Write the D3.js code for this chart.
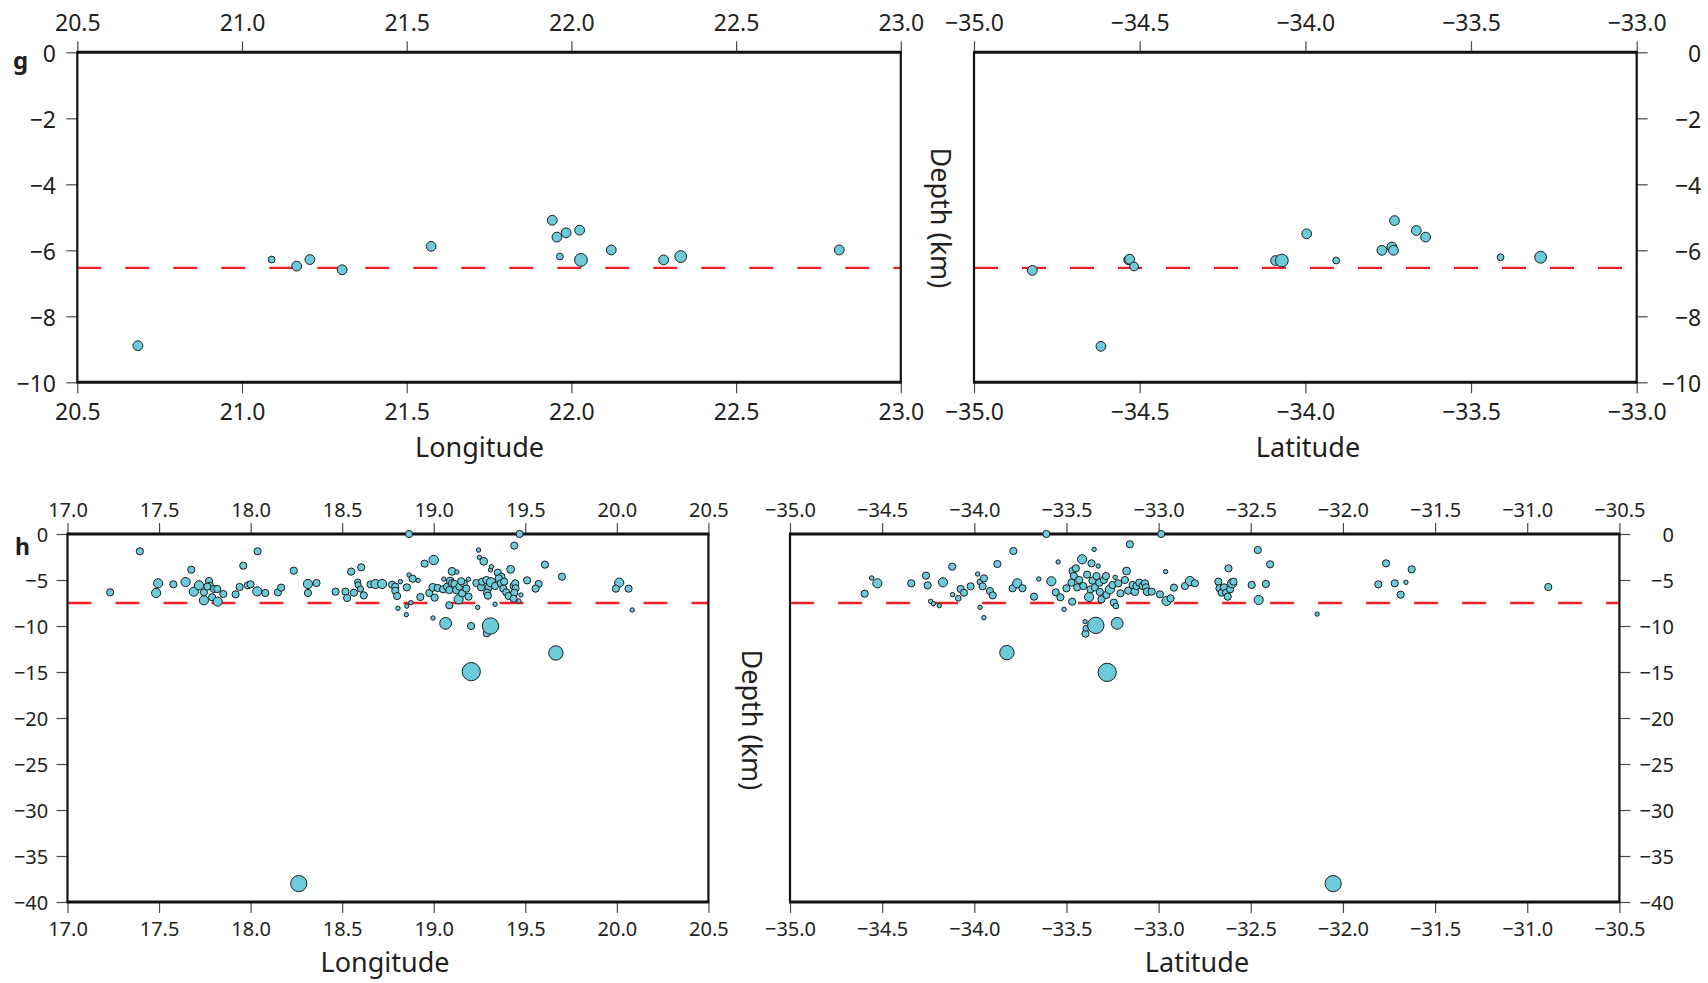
<!DOCTYPE html>
<html><head><meta charset="utf-8">
<script src="https://cdn.jsdelivr.net/npm/d3@7"></script>
<style>
body{margin:0;background:#fff}
svg{display:block;background:#fff}
text{font-family:"Noto Sans",sans-serif;fill:#231f20}
</style>
</head><body>
<svg id="c" width="1708" height="983"></svg>
<script>
// ---------------- DATA ----------------
// tick labels
const gLonTicks = [20.5, 21.0, 21.5, 22.0, 22.5, 23.0];
const gLatTicks = [-35.0, -34.5, -34.0, -33.5, -33.0];
const hLonTicks = [17.0, 17.5, 18.0, 18.5, 19.0, 19.5, 20.0, 20.5];
const hLatTicks = [-35.0, -34.5, -34.0, -33.5, -33.0, -32.5, -32.0, -31.5, -31.0, -30.5];
const gDepthTicks = [0, -2, -4, -6, -8, -10];
const hDepthTicks = [0, -5, -10, -15, -20, -25, -30, -35, -40];
// reference (mean) depth lines
const gRefDepth = -6.53;
const hRefDepth = -7.5;
// events: [coordinate, depth (km), magnitude]
const gLonEvents = [
 [20.684,-8.89,2.5],[21.09,-6.28,1.75],[21.166,-6.48,2.5],[21.206,-6.28,2.5],[21.304,-6.59,2.5],
 [21.574,-5.88,2.5],[21.942,-5.09,2.5],[21.956,-5.60,2.5],[21.984,-5.47,2.5],[21.965,-6.19,1.75],
 [22.025,-5.39,2.5],[22.121,-5.99,2.5],[22.28,-6.29,2.5],[22.332,-6.19,3.0],[22.813,-5.99,2.5],
 [22.029,-6.29,3.25]
];
const gLatEvents = [
 [-34.824,-6.61,2.5],[-34.617,-8.91,2.5],[-34.533,-6.29,2.5],[-34.530,-6.27,2.5],[-34.517,-6.49,2.25],
 [-34.09,-6.31,2.5],[-33.996,-5.50,2.5],[-33.907,-6.31,1.75],[-33.769,-6.0,2.5],[-33.739,-5.9,2.5],
 [-33.734,-6.0,2.5],[-33.731,-5.10,2.5],[-33.665,-5.40,2.5],[-33.637,-5.60,2.5],[-33.411,-6.21,1.75],
 [-33.29,-6.21,3.0],[-34.071,-6.31,3.25]
];
const hLonEvents = [
 [17.233,-6.34,1.85],[17.395,-1.88,1.85],[17.495,-5.36,2.35],[17.484,-6.41,2.35],[17.578,-5.47,1.85],
 [17.645,-5.22,2.35],[17.676,-3.88,1.85],[17.69,-6.27,2.35],[17.718,-5.58,2.35],[17.745,-6.34,1.85],
 [17.745,-7.21,2.35],[17.773,-5.11,1.85],[17.778,-5.62,1.85],[17.764,-5.72,1.85],[17.79,-6.88,1.85],
 [17.80,-5.98,1.85],[17.818,-5.98,1.85],[17.82,-7.35,2.35],[17.851,-6.52,1.85],[17.918,-6.56,1.85],
 [17.94,-5.76,1.85],[17.96,-3.44,1.85],[17.985,-5.58,1.85],[18.0,-5.47,1.85],[18.036,-6.23,2.35],
 [18.038,-1.88,1.85],[18.08,-6.41,1.85],[18.149,-6.34,1.85],[18.167,-5.83,1.85],[18.236,-3.99,1.85],
 [18.313,-5.43,2.35],[18.313,-6.41,1.85],[18.36,-5.33,1.85],[18.464,-6.27,1.85],[18.518,-6.27,1.85],
 [18.527,-6.96,1.85],[18.549,-4.09,1.85],[18.564,-6.38,1.85],[18.585,-5.22,1.6],[18.587,-5.54,1.6],
 [18.60,-5.98,1.6],[18.604,-3.62,1.85],[18.618,-6.67,1.85],[18.655,-5.47,1.85],[18.682,-5.43,2.35],
 [18.718,-5.43,2.35],[18.773,-5.51,1.85],[18.79,-5.72,1.85],[18.805,-8.08,1.15],
 [18.865,0,1.85],[19.469,0,1.85],[19.44,-1.27,1.85],[19.245,-1.74,1.15],[19.249,-2.54,1.15],
 [19.273,-2.97,2.0],[19.31,-3.9,1.15],[19.315,-3.55,1.15],[19.0,-2.83,2.4],[18.95,-3.22,1.85],
 [19.1,-4.06,2.0],[19.127,-4.13,1.15],[19.055,-4.9,1.15],[19.19,-4.93,1.15],[19.42,-3.84,2.0],
 [19.35,-4.2,1.85],[19.37,-4.64,1.85],[19.51,-5.04,1.85],[19.607,-3.33,1.85],[19.70,-4.64,1.85],
 [19.573,-5.43,1.85],[19.556,-5.94,1.85],[20.013,-5.29,2.35],[19.995,-5.94,1.85],[20.064,-5.94,1.85],
 [20.084,-8.26,1.15],[18.79,-6.16,1.85],[18.80,-6.74,1.85],[18.853,-5.8,1.85],[18.865,-4.46,1.15],
 [18.885,-4.86,1.85],[18.915,-5.04,1.15],[18.818,-5.18,1.15],[18.927,-6.85,1.85],[18.875,-7.46,1.15],
 [18.853,-7.83,1.15],[18.85,-8.77,1.15],[18.996,-9.13,1.15],[18.976,-6.41,1.85],[18.995,-5.8,2.0],
 [19.005,-6.92,1.85],[19.022,-5.87,1.85],[19.051,-6.01,1.85],[19.073,-5.72,1.85],[19.085,-6.09,1.85],
 [19.09,-5.11,2.0],[19.1,-5.36,1.85],[19.085,-7.75,1.85],[19.113,-5.43,1.85],[19.124,-6.09,2.0],
 [19.136,-7.1,2.35],[19.14,-5.72,1.85],[19.155,-6.45,1.85],[19.164,-5.36,1.85],[19.178,-5.94,1.85],
 [19.19,-6.81,1.85],[19.15,-5.14,1.85],[19.204,-10.0,1.85],[19.24,-7.97,1.15],[19.233,-5.33,1.85],
 [19.258,-5.8,1.85],[19.264,-5.18,1.85],[19.287,-5.0,1.85],[19.3,-5.8,1.85],[19.313,-5.25,2.35],
 [19.291,-6.38,1.85],[19.296,-6.7,1.85],[19.335,-7.64,1.15],[19.29,-10.8,1.85],[19.335,-5.65,1.85],
 [19.355,-4.82,1.85],[19.367,-5.36,1.85],[19.38,-5.94,1.85],[19.396,-6.34,1.85],[19.385,-5.18,1.85],
 [19.409,-6.74,1.85],[19.436,-5.65,1.85],[19.445,-5.36,1.85],[19.447,-5.9,1.85],[19.44,-6.38,1.85],
 [19.465,-7.28,1.15],[19.476,-6.63,1.15],[19.436,-7.03,1.85],
 [19.065,-9.71,3.0],[19.31,-10.0,4.15],[19.667,-12.93,3.65],[19.205,-14.96,4.6],[18.263,-38.0,4.1]
];
const hLatEvents = [
 [-34.595,-6.49,1.85],[-34.557,-4.78,1.15],[-34.526,-5.36,2.35],[-34.342,-5.36,1.85],[-34.262,-4.53,1.85],
 [-34.253,-5.58,1.85],[-34.17,-5.25,2.35],[-34.12,-3.55,1.85],[-34.237,-7.32,1.15],[-34.222,-7.57,1.15],
 [-34.19,-7.79,1.15],[-34.118,-6.59,1.15],[-34.087,-6.99,1.5],[-34.074,-5.98,1.85],[-34.056,-6.38,1.85],
 [-34.02,-5.69,1.85],[-33.982,-4.35,1.15],[-33.969,-5.22,1.5],[-33.948,-4.82,1.85],[-33.955,-5.69,1.85],
 [-33.969,-7.97,1.15],[-33.948,-9.09,1.15],[-33.915,-6.2,1.85],[-33.9,-6.67,1.85],[-33.875,-3.26,1.85],
 [-33.788,-1.85,1.85],[-33.792,-5.9,1.85],[-33.767,-5.36,2.35],
 [-33.739,-5.9,1.85],[-33.676,-6.81,1.85],[-33.65,-4.89,1.15],[-33.609,0,1.85],[-33.582,-5.14,2.35],
 [-33.545,-3.04,1.15],[-33.558,-6.34,1.85],[-33.533,-6.88,1.85],[-33.513,-8.19,1.15],[-33.5,-5.9,1.85],
 [-33.469,-7.36,1.85],[-33.467,-4.02,1.85],[-33.46,-4.57,1.85],[-33.473,-5.29,1.85],[-33.449,-3.73,1.85],
 [-33.442,-5.8,1.85],[-33.431,-5.0,1.85],[-33.415,-2.75,2.35],[-33.409,-5.65,1.85],[-33.399,-9.53,1.15],
 [-33.397,-10.83,1.85],[-33.395,-10.25,1.5],[-33.388,-4.42,1.85],[-33.377,-6.85,2.35],[-33.37,-6.01,1.85],
 [-33.364,-3.19,1.85],[-33.359,-5.07,1.85],[-33.35,-1.67,1.15],[-33.346,-5.8,1.85],[-33.337,-4.57,1.85],
 [-33.328,-3.48,1.15],[-33.322,-5.29,1.85],[-33.319,-6.3,1.85],[-33.31,-7.1,1.85],[-33.297,-5.0,1.85],
 [-33.286,-4.57,1.85],[-33.283,-6.63,1.85],[-33.264,-6.01,2.35],[-33.25,-5.54,1.85],[-33.243,-7.46,1.85],
 [-33.236,-4.71,1.15],[-33.232,-7.83,1.5],[-33.219,-5.36,1.85],[-33.207,-6.45,1.85],[-33.183,-5.0,1.85],
 [-33.174,-4.02,2.0],[-33.165,-6.16,1.85],[-33.156,-1.12,1.85],[-33.141,-5.54,1.85],[-33.129,-6.27,2.0],
 [-33.12,-5.65,1.85],[-33.105,-5.29,1.85],[-33.087,-5.65,1.85],[-33.074,-5.36,1.85],[-33.069,-5.8,1.85],
 [-33.062,-6.27,2.0],[-33.038,-6.27,1.85],[-32.993,-6.56,1.85],[-32.986,0,1.85],[-32.962,-4.09,1.15],
 [-32.957,-7.28,2.35],[-32.935,-7.0,1.85],[-32.917,-5.83,1.85],[-32.857,-5.65,1.85],[-32.83,-5.11,2.35],
 [-32.803,-5.36,1.85],[-32.676,-5.18,1.85],[-32.67,-5.9,1.85],[-32.658,-6.38,1.85],[-32.645,-5.8,1.85],
 [-32.634,-6.38,1.85],[-32.625,-6.81,1.85],[-32.621,-3.73,1.85],[-32.612,-6.01,1.85],[-32.601,-5.36,2.35],
 [-32.594,-5.18,1.85],[-32.495,-5.54,1.85],[-32.462,-1.74,1.85],[-32.457,-7.17,2.35],[-32.418,-5.43,1.85],
 [-32.395,-3.3,1.85],[-32.14,-8.7,1.15],
 [-31.766,-3.19,1.85],[-31.627,-3.84,1.85],[-31.808,-5.47,1.85],[-31.719,-5.36,1.85],[-31.658,-5.25,1.15],
 [-31.687,-6.59,1.85],[-30.886,-5.76,1.85],
 [-33.341,-9.93,4.15],[-33.225,-9.71,3.0],[-33.823,-12.89,3.65],[-33.279,-15.04,4.6],[-32.053,-38.0,4.1]
];

// ---------------- DRAWING ----------------
const svg = d3.select("#c");
const rScale = d3.scaleLinear().domain([0, 5]).range([-0.1, 9.9]);
const fmtCoord = d3.format(".1f");
const fmtDepth = d3.format("d");

function styleAxis(sel, fs) {
  sel.attr("font-size", fs).attr("font-family", "Noto Sans, sans-serif");
  sel.select(".domain").remove();
  sel.selectAll(".tick line").attr("stroke", "#4a4a4a").attr("stroke-width", 1.2);
  sel.selectAll(".tick text").attr("fill", "#231f20");
}

function panel(o) {
  const x = d3.scaleLinear().domain(o.xd).range([o.x0, o.x1]);
  const y = d3.scaleLinear().domain(o.yd).range([o.y0, o.y1]);
  const g = svg.append("g");

  const top = g.append("g").attr("transform", `translate(0,${o.y0})`)
    .call(d3.axisTop(x).tickValues(o.xt).tickFormat(fmtCoord).tickSize(11).tickSizeOuter(0).tickPadding(o.topPad));
  styleAxis(top, o.fs);
  const bot = g.append("g").attr("transform", `translate(0,${o.y1})`)
    .call(d3.axisBottom(x).tickValues(o.xt).tickFormat(fmtCoord).tickSize(11).tickSizeOuter(0).tickPadding(o.botPad));
  styleAxis(bot, o.fs);

  if (o.side === "left") {
    const ya = g.append("g").attr("transform", `translate(${o.x0},0)`)
      .call(d3.axisLeft(y).tickValues(o.yt).tickFormat(fmtDepth).tickSize(11).tickSizeOuter(0).tickPadding(o.sidePad));
    styleAxis(ya, o.fs);
    ya.selectAll(".tick text").attr("dy", "0.39em");
  } else {
    const ya = g.append("g").attr("transform", `translate(${o.x1},0)`)
      .call(d3.axisRight(y).tickValues(o.yt).tickFormat(fmtDepth).tickSize(11).tickSizeOuter(0));
    styleAxis(ya, o.fs);
    ya.selectAll(".tick text").attr("x", o.sidePad).attr("text-anchor", "end").attr("dy", "0.39em");
  }

  // reference depth line
  g.append("line")
    .attr("x1", o.x0).attr("x2", o.x1)
    .attr("y1", y(o.ref)).attr("y2", y(o.ref))
    .attr("stroke", "#ee2328").attr("stroke-width", 2.3)
    .attr("stroke-dasharray", "24,24");

  // frame
  const fr = g.append("g").attr("stroke", "#111");
  fr.append("line").attr("x1", o.x0 - 1).attr("x2", o.x1 + 1).attr("y1", o.y0).attr("y2", o.y0).attr("stroke-width", 3);
  fr.append("line").attr("x1", o.x0 - 1).attr("x2", o.x1 + 1).attr("y1", o.y1).attr("y2", o.y1).attr("stroke-width", 3);
  fr.append("line").attr("x1", o.x0).attr("x2", o.x0).attr("y1", o.y0).attr("y2", o.y1).attr("stroke-width", 2.2);
  fr.append("line").attr("x1", o.x1).attr("x2", o.x1).attr("y1", o.y0).attr("y2", o.y1).attr("stroke-width", 2.2);

  // events
  g.append("g").selectAll("circle").data(o.data).join("circle")
    .attr("cx", d => x(d[0])).attr("cy", d => y(d[1])).attr("r", d => rScale(d[2]))
    .attr("fill", "#6ccbdb").attr("stroke", "#1c1c1c").attr("stroke-width", 1);

  // axis title
  g.append("text").attr("x", o.titleX).attr("y", o.titleY)
    .attr("text-anchor", "middle").attr("font-size", 27).text(o.title);
}

panel({xd:[20.5,23], yd:[0,-10], x0:77.3, x1:900.8, y0:52.3, y1:382.3, xt:gLonTicks, yt:gDepthTicks,
  side:"left", fs:23, topPad:10.6, botPad:10.6, sidePad:10.3, ref:gRefDepth, data:gLonEvents,
  title:"Longitude", titleX:479.5, titleY:457});
panel({xd:[-35,-33], yd:[0,-10], x0:974, x1:1636.7, y0:52.3, y1:382.3, xt:gLatTicks, yt:gDepthTicks,
  side:"right", fs:23, topPad:10.6, botPad:10.6, sidePad:64.5, ref:gRefDepth, data:gLatEvents,
  title:"Latitude", titleX:1308, titleY:457});
panel({xd:[17,20.5], yd:[0,-40], x0:67.5, x1:708.4, y0:534, y1:902, xt:hLonTicks, yt:hDepthTicks,
  side:"left", fs:20, topPad:6.3, botPad:8.5, sidePad:8.3, ref:hRefDepth, data:hLonEvents,
  title:"Longitude", titleX:385, titleY:972});
panel({xd:[-35,-30.5], yd:[0,-40], x0:790, x1:1619.4, y0:534, y1:902, xt:hLatTicks, yt:hDepthTicks,
  side:"right", fs:20, topPad:6.3, botPad:8.5, sidePad:54.5, ref:hRefDepth, data:hLatEvents,
  title:"Latitude", titleX:1197, titleY:972});

// Depth titles (rotated)
svg.append("text").attr("transform", "translate(931,218) rotate(90)")
  .attr("text-anchor", "middle").attr("font-size", 27).text("Depth (km)");
svg.append("text").attr("transform", "translate(742,720) rotate(90)")
  .attr("text-anchor", "middle").attr("font-size", 27).text("Depth (km)");

// panel letters
svg.append("text").attr("x", 13).attr("y", 69).attr("font-size", 24).attr("font-weight", "bold").text("g");
svg.append("text").attr("x", 15).attr("y", 555).attr("font-size", 23).attr("font-weight", "bold").text("h");
</script>
</body></html>
